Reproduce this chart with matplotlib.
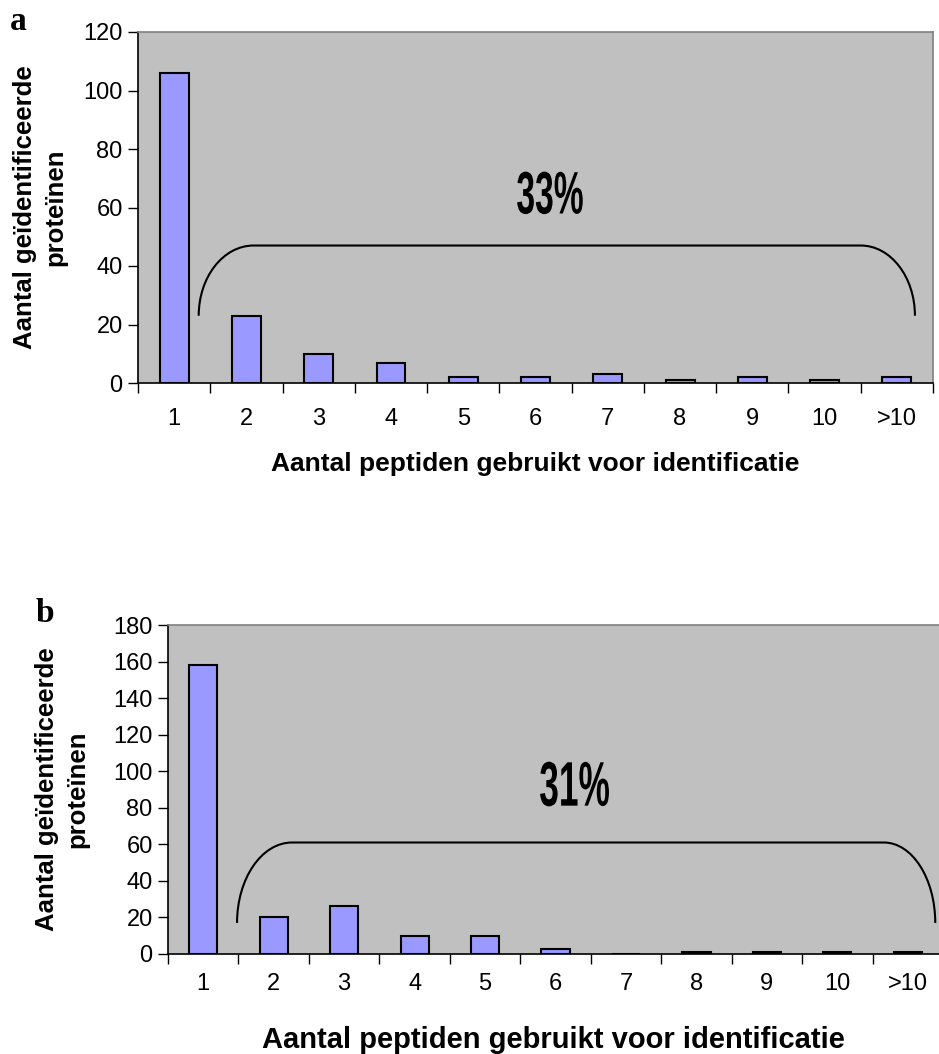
import matplotlib
matplotlib.use("Agg")
import matplotlib.pyplot as plt
from matplotlib.path import Path
from matplotlib.patches import PathPatch
from matplotlib.textpath import TextPath
from matplotlib.font_manager import FontProperties
from matplotlib.transforms import Affine2D, IdentityTransform
from matplotlib import font_manager
import numpy as np

# ---- data ----
categories = ["1", "2", "3", "4", "5", "6", "7", "8", "9", "10", ">10"]
counts_a = [106, 23, 10, 7, 2, 2, 3, 1, 2, 1, 2]
counts_b = [158, 20, 26, 10, 10, 3, 0, 1, 1, 1, 1]
yticks_a = [0, 20, 40, 60, 80, 100, 120]
yticks_b = [0, 20, 40, 60, 80, 100, 120, 140, 160, 180]
pct_a = "33%"
pct_b = "31%"
ylabel = "Aantal geïdentificeerde\nproteïnen"
xlabel = "Aantal peptiden gebruikt voor identificatie"

names = {f.name for f in font_manager.fontManager.ttflist}
sans = "Liberation Sans" if "Liberation Sans" in names else "DejaVu Sans"
serif = "Liberation Serif" if "Liberation Serif" in names else "DejaVu Serif"
plt.rcParams["font.family"] = [sans, "DejaVu Sans"]

BAR_COLOR = "#9999FF"
BG = "#C0C0C0"
DPI = 100

fig = plt.figure(figsize=(9.39, 10.54), dpi=DPI)


def bracket(ax, x0, x1, x2, x3, y0, ytop):
    k = 0.552
    verts = [
        (x0, y0),
        (x0, y0 + k * (ytop - y0)), (x1 - k * (x1 - x0), ytop), (x1, ytop),
        (x2, ytop),
        (x2 + k * (x3 - x2), ytop), (x3, y0 + k * (ytop - y0)), (x3, y0),
    ]
    codes = [Path.MOVETO, Path.CURVE4, Path.CURVE4, Path.CURVE4, Path.LINETO,
             Path.CURVE4, Path.CURVE4, Path.CURVE4]
    ax.add_patch(PathPatch(Path(verts, codes), fill=False, lw=1.5,
                           edgecolor="black", zorder=4, clip_on=False))


def narrow_text(ax, xy, s, size_px, xscale):
    fp = FontProperties(family=sans, weight="bold")
    tp = TextPath((0, 0), s, size=size_px, prop=fp)
    ext = tp.get_extents()
    cx, cy = (ext.x0 + ext.x1) / 2, (ext.y0 + ext.y1) / 2
    px, py = ax.transData.transform(xy)
    tr = (Affine2D().translate(-cx, -cy).scale(xscale, 1.0)
          .translate(px, py)) + IdentityTransform()
    patch = PathPatch(tp, facecolor="black", edgecolor="none",
                      transform=tr, zorder=5)
    fig.add_artist(patch)


def panel(rect, counts, yticks, tick_fs, xpad, pct, pct_xy, pct_px, br,
          letter, letter_xy, ylab_x, xlab_y, xlab_fs):
    ax = fig.add_axes(rect)
    ax.set_facecolor(BG)
    x = np.arange(len(categories))
    ax.bar(x, counts, width=0.4, color=BAR_COLOR, edgecolor="black",
           linewidth=1.5, zorder=3)
    ax.set_xlim(-0.5, len(categories) - 0.5)
    ax.set_ylim(yticks[0], yticks[-1])
    ax.set_yticks(yticks)
    ax.set_yticklabels([str(v) for v in yticks], fontsize=tick_fs)
    ax.set_xticks(x)
    ax.set_xticklabels(categories, fontsize=tick_fs)
    ax.set_xticks(np.arange(-0.5, len(categories) + 0.5, 1.0), minor=True)
    ax.tick_params(axis="x", which="major", length=0, pad=xpad)
    ax.tick_params(axis="x", which="minor", length=7, width=1, color="black")
    ax.tick_params(axis="y", length=7, width=1, color="black", pad=4)
    for s in ("top", "right"):
        ax.spines[s].set_color("#808080")
        ax.spines[s].set_linewidth(1.2)
    ax.spines["left"].set_color("black")
    ax.spines["bottom"].set_color("black")
    ax.spines["left"].set_linewidth(1.2)
    ax.spines["bottom"].set_linewidth(1.2)
    bracket(ax, *br)
    narrow_text(ax, pct_xy, pct, pct_px, 0.56)
    fig.text(letter_xy[0], letter_xy[1], letter, fontsize=24,
             fontweight="bold", family=[serif, "DejaVu Serif"],
             ha="center", va="center")
    fig.text(ylab_x, rect[1] + rect[3] / 2, ylabel, rotation=90,
             fontsize=18.5, fontweight="bold", ha="center", va="center",
             multialignment="center", linespacing=1.3)
    fig.text((rect[0] + min(rect[0] + rect[2], 1.0)) / 2, xlab_y, xlabel,
             fontsize=xlab_fs, fontweight="bold", ha="center", va="center")
    return ax


W, H = 939.0, 1054.0
# panel a
panel([138 / W, 1 - 383 / H, (933 - 138) / W, (383 - 32) / H],
      counts_a, yticks_a, 17, 18, pct_a, (5.2, 65), 60,
      (0.34, 1.1, 9.5, 10.25, 23, 47), "a", (18 / W, 1 - 22 / H),
      40 / W, 1 - 464 / H, 19)
# panel b
panel([168 / W, 1 - 954 / H, (943 - 168) / W, (954 - 625) / H],
      counts_b, yticks_b, 17, 14, pct_b, (5.27, 93), 63,
      (0.48, 1.26, 9.66, 10.39, 17, 61), "b", (45 / W, 1 - 613 / H),
      62 / W, 1 - 1040 / H, 21)

fig.savefig("out.png", dpi=DPI, facecolor="white")
